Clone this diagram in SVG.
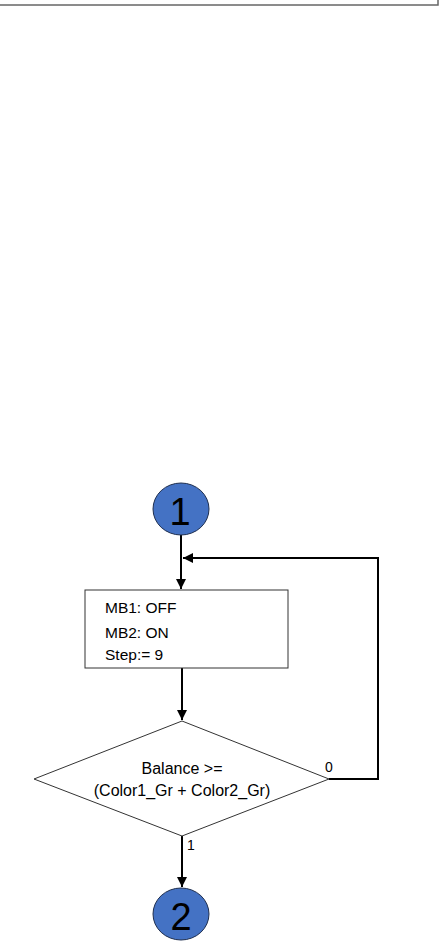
<svg xmlns="http://www.w3.org/2000/svg" width="441" height="947" viewBox="0 0 441 947">
<style>
.conn{fill:none;stroke:#000;stroke-width:2}
.txt{font-family:"Liberation Sans",Arial,sans-serif;fill:#000}
.circ{fill:#4472C4;stroke:#1f2f4f;stroke-width:1}
.shape{fill:#fff;stroke:#333;stroke-width:1}
</style>
<defs>
<marker id="ah" viewBox="0 0 10 10" refX="10" refY="5" markerWidth="5" markerHeight="5" orient="auto" markerUnits="strokeWidth">
<path d="M0,0 L10,5 L0,10 z" fill="#000"/>
</marker>
</defs>
<g id="frame">
<rect x="-5" y="-20" width="443" height="25" fill="none" stroke="#666" stroke-width="1.5"/>
</g>
<g id="connectors">
<line class="conn" x1="181" y1="535" x2="181" y2="589" marker-end="url(#ah)"/>
<polyline class="conn" points="329,779 378,779 378,558 183,558" marker-end="url(#ah)"/>
<line class="conn" x1="182" y1="668" x2="182" y2="720" marker-end="url(#ah)"/>
<line class="conn" x1="182" y1="836" x2="182" y2="887" marker-end="url(#ah)"/>
<text class="txt" x="329" y="772" font-size="14" text-anchor="middle">0</text>
<text class="txt" x="191" y="850" font-size="14" text-anchor="middle">1</text>
</g>
<g id="start1">
<ellipse class="circ" cx="181" cy="509" rx="28" ry="26"/>
<text class="txt" x="180" y="525" font-size="38" text-anchor="middle">1</text>
</g>
<g id="step9">
<rect class="shape" x="85" y="590" width="203" height="78"/>
<text class="txt" x="105" y="613" font-size="15.5">MB1: OFF</text>
<text class="txt" x="105" y="638" font-size="15.5">MB2: ON</text>
<text class="txt" x="105" y="660" font-size="15.5">Step:= 9</text>
</g>
<g id="decision">
<polygon class="shape" points="182,721 329,779 182,836 34,779"/>
<text class="txt" x="182" y="774" font-size="16" text-anchor="middle">Balance &gt;=</text>
<text class="txt" x="182" y="796" font-size="16" text-anchor="middle">(Color1_Gr + Color2_Gr)</text>
</g>
<g id="end2">
<ellipse class="circ" cx="181" cy="914" rx="28" ry="26"/>
<text class="txt" x="181" y="930" font-size="38" text-anchor="middle">2</text>
</g>
</svg>
